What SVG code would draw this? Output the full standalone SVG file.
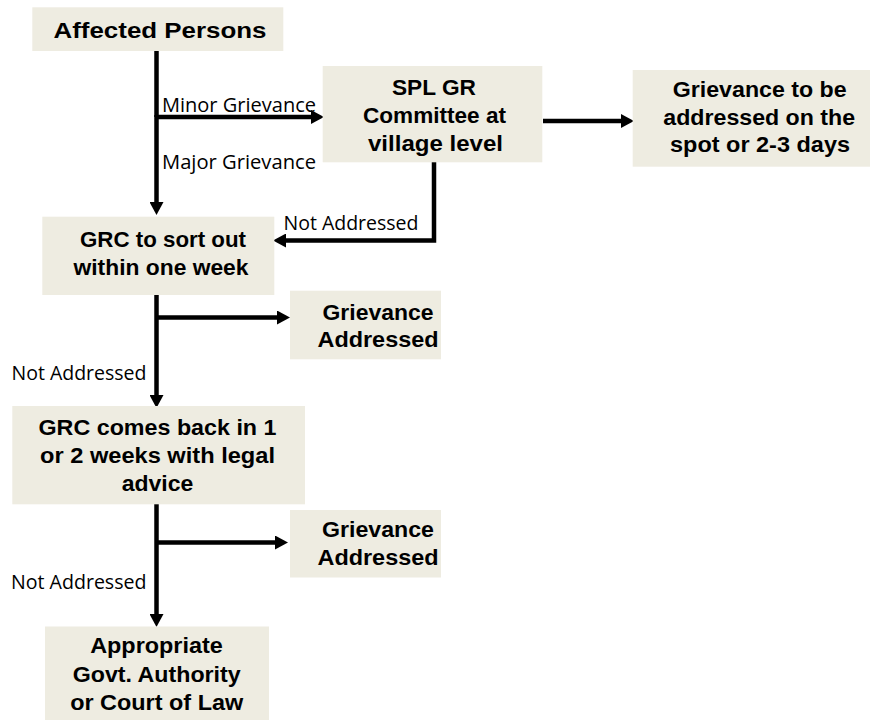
<svg xmlns="http://www.w3.org/2000/svg" width="870" height="720" viewBox="0 0 870 720">
<style>
.box{fill:#EEECE1;}
.bt{font-family:"Liberation Sans",Arial,sans-serif;font-weight:bold;font-size:22px;fill:#000;text-anchor:middle;}
.lbl{font-family:"Open Sans","DejaVu Sans",sans-serif;font-size:19.5px;fill:#000;}
.con{fill:none;stroke:#000;stroke-width:4.5;marker-end:url(#ah);}
.con2{fill:none;stroke:#000;stroke-width:4.5;}
</style>
<defs>
<marker id="ah" markerWidth="13" markerHeight="14" refX="1" refY="7" orient="auto" markerUnits="userSpaceOnUse">
<path d="M0,0 L13,7 L0,14 z" fill="#000"/>
</marker>
</defs>
<rect width="870" height="720" fill="#fff"/>
<g id="connectors">
<line class="con2" x1="156.5" y1="51" x2="156.5" y2="117"/>
<line class="con" x1="156.5" y1="117" x2="312" y2="117"/>
<line class="con" x1="156.5" y1="115" x2="156.5" y2="203"/>
<line class="con" x1="543" y1="121" x2="622" y2="121"/>
<polyline class="con" points="434,162 434,240.5 285,240.5"/>
<line class="con" x1="156.5" y1="295" x2="156.5" y2="396"/>
<line class="con" x1="156.5" y1="317.5" x2="278" y2="317.5"/>
<line class="con" x1="156.5" y1="504" x2="156.5" y2="615"/>
<line class="con" x1="156.5" y1="542.5" x2="276" y2="542.5"/>
</g>
<g id="labels">
<text class="lbl" x="162" y="112" textLength="154" lengthAdjust="spacingAndGlyphs">Minor Grievance</text>
<text class="lbl" x="162" y="168.5" textLength="154" lengthAdjust="spacingAndGlyphs">Major Grievance</text>
<text class="lbl" x="283.5" y="230" textLength="135" lengthAdjust="spacingAndGlyphs">Not Addressed</text>
<text class="lbl" x="11.5" y="379.5" textLength="135" lengthAdjust="spacingAndGlyphs">Not Addressed</text>
<text class="lbl" x="11" y="588.5" textLength="135.5" lengthAdjust="spacingAndGlyphs">Not Addressed</text>
</g>
<g id="affected-persons">
<rect class="box" x="32.3" y="7.3" width="251" height="43.7"/>
<text class="bt" x="160" y="37.5" font-size="23" textLength="213" lengthAdjust="spacingAndGlyphs">Affected Persons</text>
</g>
<g id="spl-gr-committee">
<rect class="box" x="322.7" y="66" width="219.6" height="96.3"/>
<text class="bt" x="434" y="95" textLength="84" lengthAdjust="spacingAndGlyphs">SPL GR</text>
<text class="bt" x="434.5" y="123" textLength="143" lengthAdjust="spacingAndGlyphs">Committee at</text>
<text class="bt" x="435.5" y="150.5" textLength="135" lengthAdjust="spacingAndGlyphs">village level</text>
</g>
<g id="grievance-spot">
<rect class="box" x="632.7" y="70" width="237.3" height="96.7"/>
<text class="bt" x="759.7" y="97" textLength="174" lengthAdjust="spacingAndGlyphs">Grievance to be</text>
<text class="bt" x="759.2" y="125" textLength="191.7" lengthAdjust="spacingAndGlyphs">addressed on the</text>
<text class="bt" x="760" y="152" textLength="180" lengthAdjust="spacingAndGlyphs">spot or 2-3 days</text>
</g>
<g id="grc-one-week">
<rect class="box" x="42.3" y="216.7" width="232" height="78.3"/>
<text class="bt" x="163" y="246.5" textLength="166" lengthAdjust="spacingAndGlyphs">GRC to sort out</text>
<text class="bt" x="161" y="275" textLength="175" lengthAdjust="spacingAndGlyphs">within one week</text>
</g>
<g id="grievance-addressed-1">
<rect class="box" x="290" y="290.7" width="151" height="68.6"/>
<text class="bt" x="378" y="320" textLength="111" lengthAdjust="spacingAndGlyphs">Grievance</text>
<text class="bt" x="378" y="347" textLength="121" lengthAdjust="spacingAndGlyphs">Addressed</text>
</g>
<g id="grc-comes-back">
<rect class="box" x="12.3" y="406" width="292.7" height="98.3"/>
<text class="bt" x="157.5" y="435" textLength="238" lengthAdjust="spacingAndGlyphs">GRC comes back in 1</text>
<text class="bt" x="157.5" y="463" textLength="235" lengthAdjust="spacingAndGlyphs">or 2 weeks with legal</text>
<text class="bt" x="157.5" y="491" textLength="71.6" lengthAdjust="spacingAndGlyphs">advice</text>
</g>
<g id="grievance-addressed-2">
<rect class="box" x="290" y="510" width="151" height="67.5"/>
<text class="bt" x="378" y="537" textLength="112" lengthAdjust="spacingAndGlyphs">Grievance</text>
<text class="bt" x="378" y="564.5" textLength="121" lengthAdjust="spacingAndGlyphs">Addressed</text>
</g>
<g id="govt-authority">
<rect class="box" x="45" y="626.5" width="224" height="93.5"/>
<text class="bt" x="156.5" y="653" textLength="132.7" lengthAdjust="spacingAndGlyphs">Appropriate</text>
<text class="bt" x="156.7" y="682" textLength="168" lengthAdjust="spacingAndGlyphs">Govt. Authority</text>
<text class="bt" x="156.7" y="710" textLength="173" lengthAdjust="spacingAndGlyphs">or Court of Law</text>
</g>
</svg>
